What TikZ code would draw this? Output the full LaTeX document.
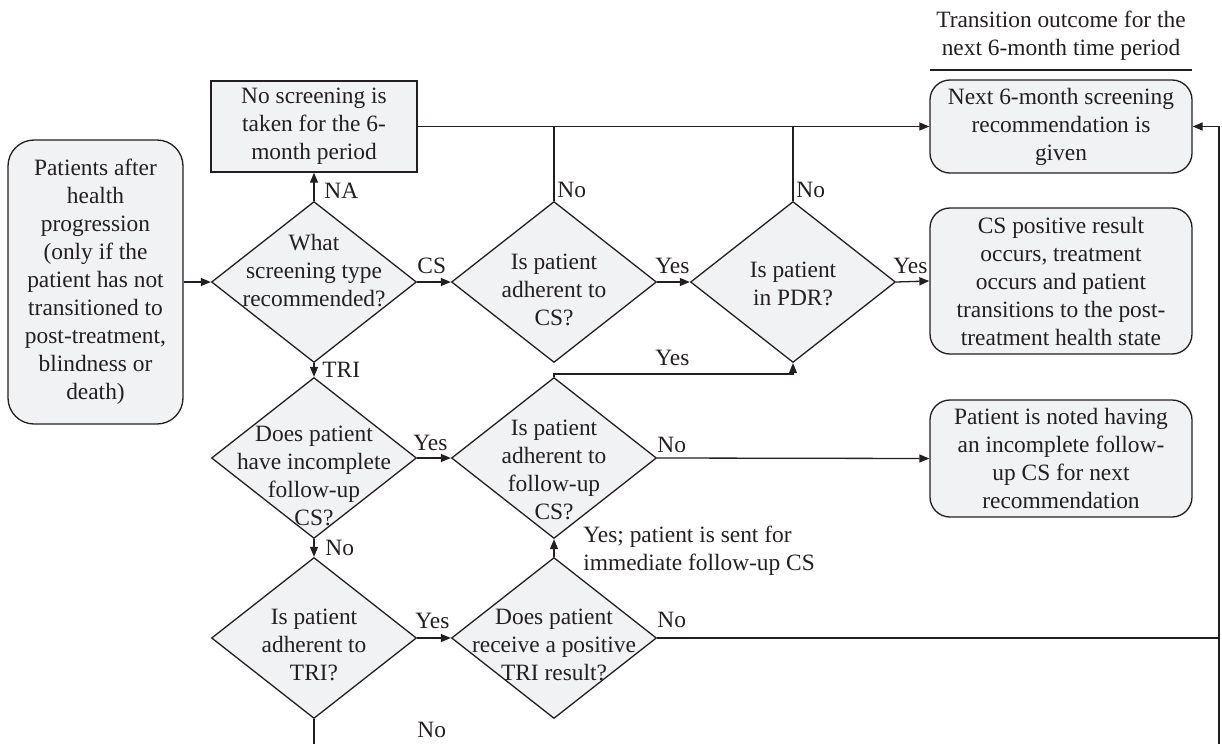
\documentclass[tikz,border=0pt]{standalone}
\usepackage{fontspec}
\setmainfont{Liberation Serif}
\usetikzlibrary{shapes.geometric,arrows.meta,calc}
\definecolor{fillc}{RGB}{241,242,244}
\definecolor{linec}{RGB}{35,31,32}
\begin{document}
\begin{tikzpicture}[x=0.5pt,y=-0.5pt,
  every node/.style={font=\fontsize{11.7}{14}\selectfont, text=linec},
  boxbase/.style={draw=linec, line width=0.65pt, fill=fillc, inner sep=0pt, align=center},
  rbox/.style={boxbase, rectangle, rounded corners=10pt},
  sbox/.style={boxbase, rectangle},
  dia/.style={boxbase, diamond, minimum width=102.5pt, minimum height=80.5pt},
  dtext/.style={align=center, inner sep=0pt},
  lab/.style={anchor=base west, inner sep=0pt},
  conn/.style={draw=linec, line width=0.65pt},
  arr/.style={conn, -{Triangle[length=5pt,width=4pt]}},
]
\useasboundingbox (0,0) rectangle (1222,744);

% header
\node[dtext] (hdr) at (1061,36) {Transition outcome for the\\next 6-month time period};
\coordinate (hl) at (930,70);
\coordinate (hr) at (1192,70);
\draw[conn] (hl) -- (hr);

% boxes
\node[rbox, rounded corners=13pt, minimum width=87.5pt, minimum height=142pt] (pat) at (95.5,282)
  {Patients after\\health\\progression\\(only if the\\patient has not\\transitioned to\\post-treatment,\\blindness or\\death)};
\node[sbox, minimum width=103pt, minimum height=45.5pt] (ns) at (314,126.5)
  {No screening is\\taken for the 6-\\month period};
\node[rbox, minimum width=131pt, minimum height=46.5pt] (nx) at (1061,126.5)
  {Next 6-month screening\\recommendation is\\given};
\node[rbox, minimum width=131pt, minimum height=73pt] (cs) at (1061,281)
  {CS positive result\\occurs, treatment\\occurs and patient\\transitions to the post-\\treatment health state};
\node[rbox, minimum width=131pt, minimum height=58.5pt] (pn) at (1061,458.5)
  {Patient is noted having\\an incomplete follow-\\up CS for next\\recommendation};

% diamonds
\node[dia] (d1) at (314,282) {};
\node[dia] (d2) at (554,282) {};
\node[dia] (d3) at (793,282) {};
\node[dia] (d4) at (314,458) {};
\node[dia] (d7) at (554,458) {};
\node[dia] (d5) at (314,638) {};
\node[dia] (d6) at (554,638) {};

\node[dtext] (t1) at (314,271) {What\\screening type\\recommended?};
\node[dtext] (t2) at (554,290) {Is patient\\adherent to\\CS?};
\node[dtext] (t3) at (793,284) {Is patient\\in PDR?};
\node[dtext] (t4) at (314,476) {Does patient\\have incomplete\\follow-up\\CS?};
\node[dtext] (t7) at (554,470) {Is patient\\adherent to\\follow-up\\CS?};
\node[dtext] (t5) at (314,645) {Is patient\\adherent to\\TRI?};
\node[dtext] (t6) at (554,645) {Does patient\\receive a positive\\TRI result?};

% connectors
\draw[arr] (pat.east) -- (d1.west);
\draw[arr] (d1.north) -- (ns.south);
\draw[arr] (ns.east |- nx.west) -- (nx.west);
\draw[conn] (d2.north) -- (d2.north |- nx.west);
\draw[conn] (d3.north) -- (d3.north |- nx.west);
\draw[arr] (d1.east) -- (d2.west);
\draw[arr] (d2.east) -- (d3.west);
\draw[arr] (d3.east) -- (cs.west);
\draw[arr] (d1.south) -- (d4.north);
\draw[arr] (d4.east) -- (d7.west);
\draw[arr] (d4.south) -- (d5.north);
\draw[arr] (d5.east) -- (d6.west);
\draw[arr] (d6.north) -- (d7.south);
\draw[arr] (d7.north) -- ++(0,-3) -| (d3.south);
\draw[arr] (d7.east) -- (pn.west);
\coordinate (rb) at (1219,752);
\draw[arr] (d5.south) -- (d5.south |- rb) -- (rb) -- (rb |- nx.east) -- (nx.east);
\draw[conn] (d6.east) -- (d6.east -| rb);

% labels
\node[lab] (lna) at (324,198) {NA};
\node[lab] (lcs) at (417,273) {CS};
\node[lab] (ltri) at (322,377) {TRI};
\node[lab] (lno1) at (557,197) {No};
\node[lab] (lno2) at (796,197) {No};
\node[lab] (ly1) at (655,273) {Yes};
\node[lab] (ly2) at (893,273) {Yes};
\node[lab] (ly3) at (655,365) {Yes};
\node[lab] (ly4) at (413,450) {Yes};
\node[lab] (lno3) at (657,452) {No};
\node[lab] (lno4) at (325,555) {No};
\node[lab] (ly5) at (415,628) {Yes};
\node[lab] (lno5) at (657,627) {No};
\node[lab] (lno6) at (417,737) {No};
\node[anchor=north west, align=left, inner sep=0pt] (lyes) at (583,526) {Yes; patient is sent for\\immediate follow-up CS};
\end{tikzpicture}
\end{document}
